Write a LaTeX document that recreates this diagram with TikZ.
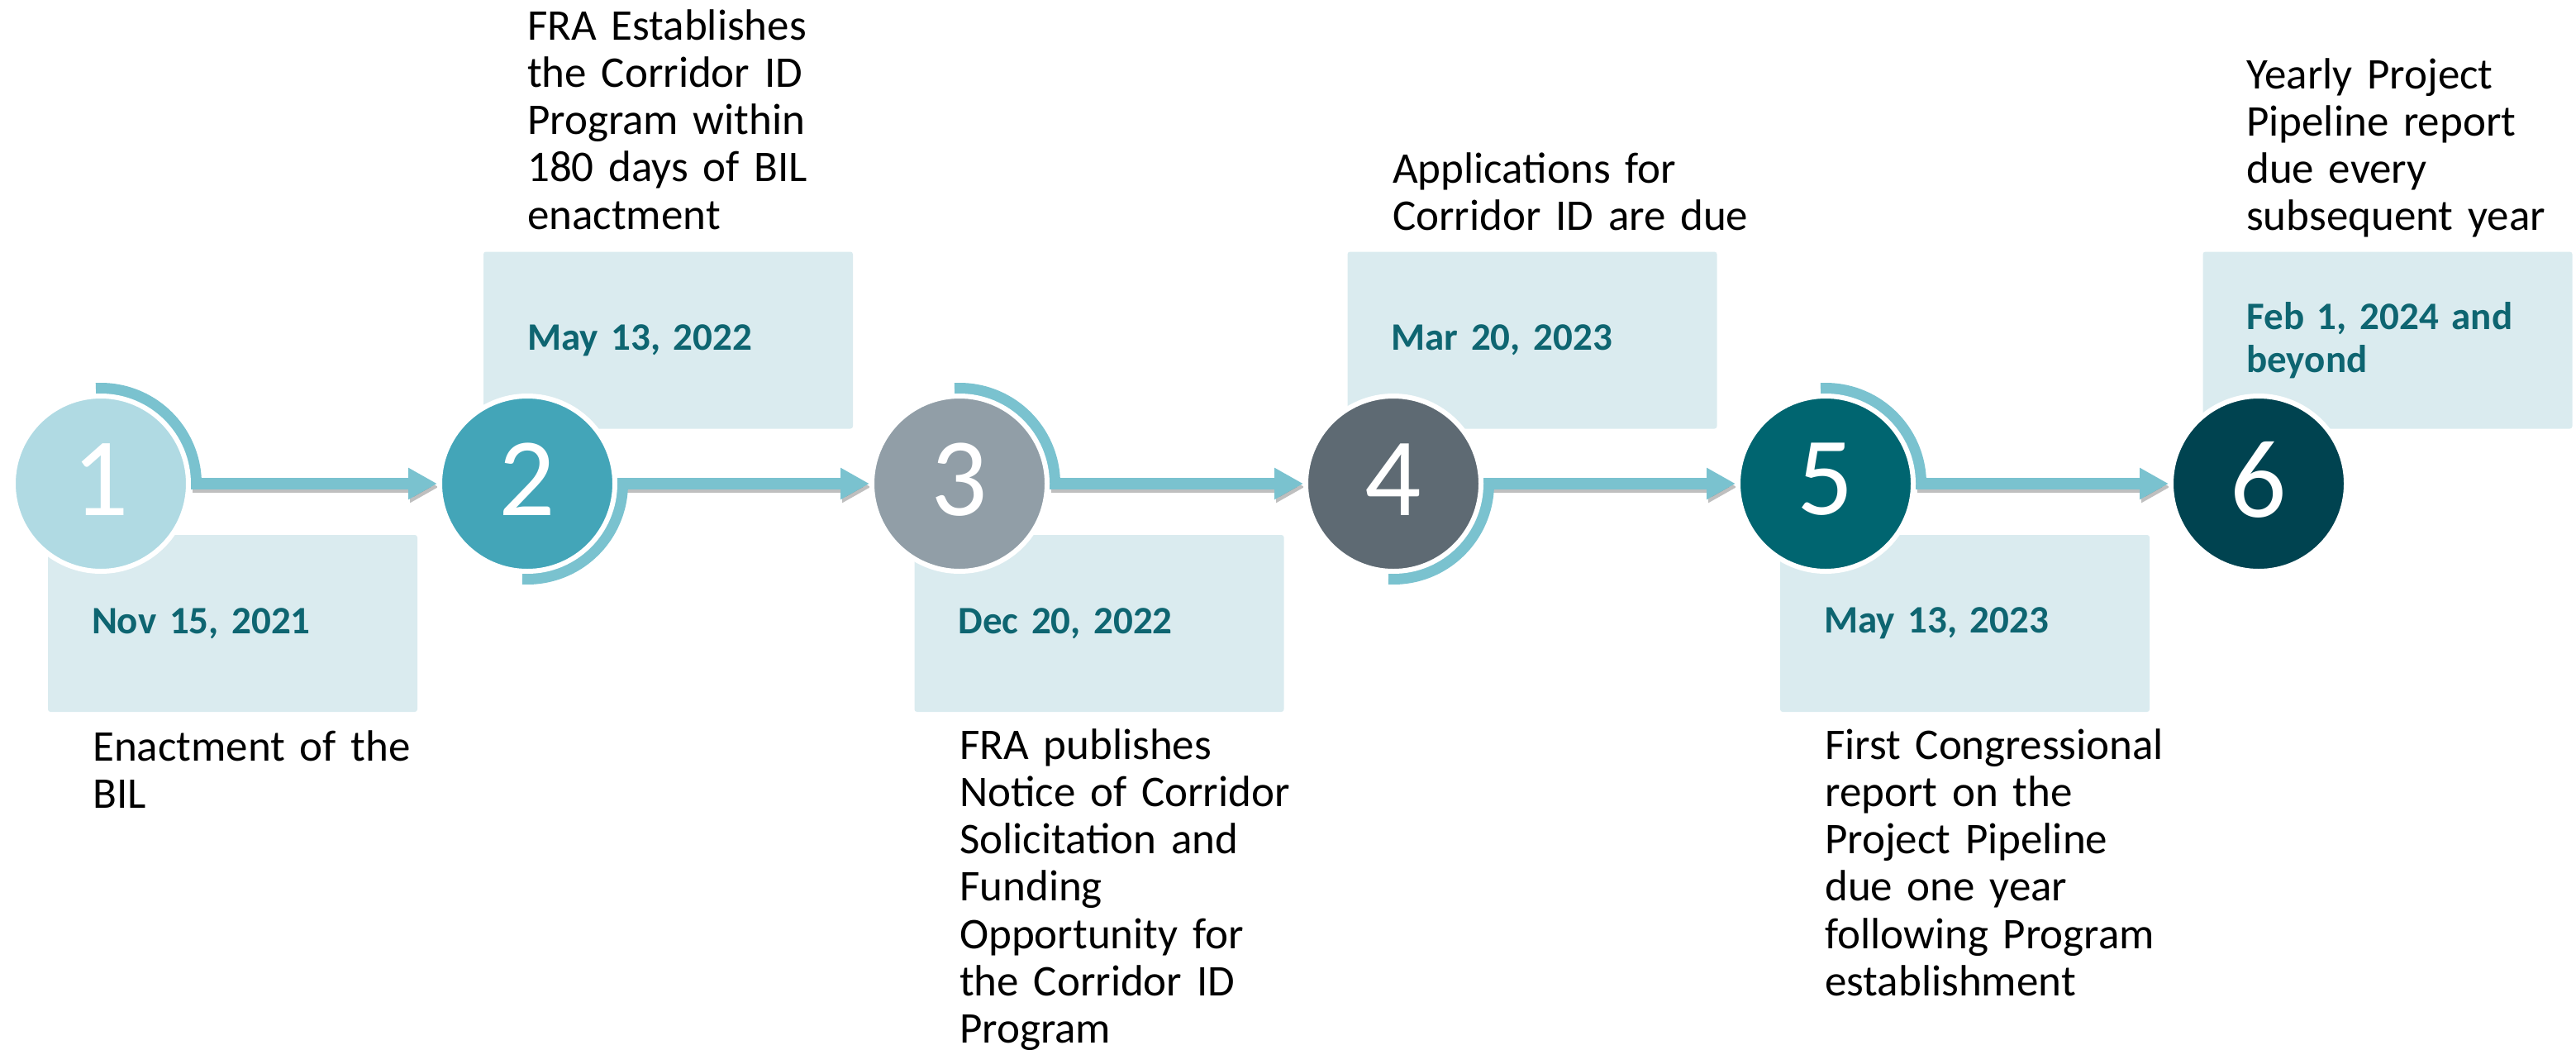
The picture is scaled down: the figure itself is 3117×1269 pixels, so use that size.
\documentclass[tikz,border=0pt]{standalone}
\usepackage{fontspec}
\setmainfont{Carlito}
\usetikzlibrary{arrows.meta,calc}
\definecolor{arrc}{HTML}{7AC2CF}
\definecolor{boxc}{HTML}{DAEBEF}
\definecolor{datec}{HTML}{0E6571}
\definecolor{cA}{HTML}{B0DAE3}
\definecolor{cB}{HTML}{43A5B8}
\definecolor{cC}{HTML}{919EA7}
\definecolor{cD}{HTML}{5E6A73}
\definecolor{cE}{HTML}{006570}
\definecolor{cF}{HTML}{004350}
\newcommand\descfont{\fontsize{53}{57.25}\selectfont}
\newcommand\datefont{\fontsize{47}{52}\selectfont\bfseries}
\newcommand\digitfont{\fontsize{135}{135}\selectfont}
\pgfdeclarelayer{back}
\pgfdeclarelayer{mid}
\pgfsetlayers{back,mid,main}
\begin{document}
\begin{tikzpicture}[x=1pt,y=1pt,
  box/.style={fill=boxc, rounded corners=3pt, minimum height=214pt, inner xsep=53pt, inner ysep=0pt, text width=341pt, align=left, font=\datefont, text=datec},
  desc/.style={anchor=north west, inner sep=0pt, text width=600pt, align=left, font=\descfont, text=black},
  circ/.style={circle, minimum size=212pt, inner sep=0pt, draw=white, line width=6pt},
  digit/.style={text=white, font=\digitfont, inner sep=0pt},
  band/.style={draw=arrc, line width=14pt},
  arr/.style={draw=arrc, line width=14pt, -{Triangle[length=35pt,width=36pt]}},
  shad/.style={draw=black, opacity=.25, line width=14pt, -{Triangle[length=35pt,width=36pt]}, transform canvas={xshift=2pt,yshift=-4pt}}]
\useasboundingbox (0,0) rectangle (3117,-1269);

% boxes with dates
\begin{pgfonlayer}{back}
\node[box] (b1) at (281.5,-754) {Nov 15, 2021};
\node[box] (b2) at (808.5,-411.5) {May 13, 2022};
\node[box] (b3) at (1330,-754) {Dec 20, 2022};
\node[box] (b4) at (1854,-411.5) {Mar 20, 2023};
\node[box] (b5) at (2377.5,-754) {May 13, 2023};
\node[box] (b6) at (2889,-411.5) {Feb 1, 2024 and\\beyond};
\end{pgfonlayer}

% circles
\node[circ, fill=cA] (c1) at (122,-585) {};
\node[circ, fill=cB] (c2) at (638,-585) {};
\node[circ, fill=cC] (c3) at (1161,-585) {};
\node[circ, fill=cD] (c4) at (1686,-585) {};
\node[circ, fill=cE] (c5) at (2209,-585) {};
\node[circ, fill=cF] (c6) at (2733,-585) {};

\node[digit] (n1) at ($(c1.center)+(0,5)$) {1};
\node[digit] (n2) at ($(c2.center)+(0,5)$) {2};
\node[digit] (n3) at ($(c3.center)+(0,5)$) {3};
\node[digit] (n4) at ($(c4.center)+(0,5)$) {4};
\node[digit] (n5) at ($(c5.center)+(0,5)$) {5};
\node[digit] (n6) at ($(c6.center)+(0,5)$) {6};

% arrows and arcs
\begin{pgfonlayer}{mid}
\foreach \a/\b in {c1/c2,c2/c3,c3/c4,c4/c5,c5/c6}{
  \draw[shad] (\a.east) -- (\b.west);
  \draw[arr] (\a.east) -- (\b.west);
}
\foreach \c in {c1,c3,c5}{
  \draw[band] ($(\c.center)+(93:115)$) arc[start angle=93, end angle=0, radius=115];
}
\foreach \c in {c2,c4}{
  \draw[band] ($(\c.center)+(0:115)$) arc[start angle=0, end angle=-93, radius=115];
}
\end{pgfonlayer}

% descriptions
\node[desc] (t1) at (112,-875) {\rule{0pt}{45pt}Enactment of the\\BIL};
\node[desc] (t2) at (638,-3) {\rule{0pt}{45pt}FRA Establishes\\the Corridor ID\\Program within\\180 days of BIL\\enactment};
\node[desc] (t3) at (1161,-873) {\rule{0pt}{45pt}FRA publishes\\Notice of Corridor\\Solicitation and\\Funding\\Opportunity for\\the Corridor ID\\Program};
\node[desc] (t4) at (1685,-176) {\rule{0pt}{45pt}Applications for\\Corridor ID are due};
\node[desc] (t5) at (2208,-873) {\rule{0pt}{45pt}First Congressional\\report on the\\Project Pipeline\\due one year\\following Program\\establishment};
\node[desc] (t6) at (2718,-62) {\rule{0pt}{45pt}Yearly Project\\Pipeline report\\due every\\subsequent year};
\end{tikzpicture}
\end{document}
